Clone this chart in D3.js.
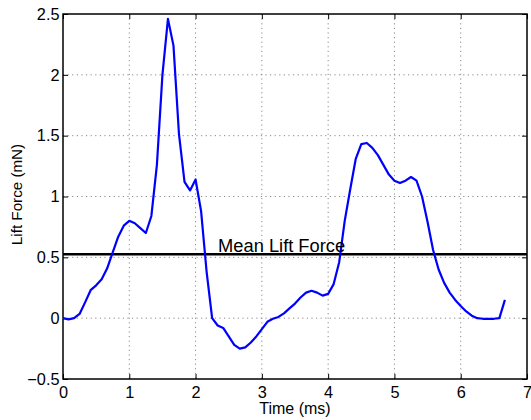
<!DOCTYPE html>
<html>
<head>
<meta charset="utf-8">
<script src="https://cdn.jsdelivr.net/npm/d3@7"></script>
<style>
  html, body { margin: 0; padding: 0; background: #fff; }
  svg { display: block; }
  text { font-family: "Liberation Sans", Arial, Helvetica, sans-serif; fill: #000; }
</style>
</head>
<body>
<svg id="chart" width="531" height="420"></svg>
<script>
// Lift force sampled every 1/12 ms
const sampleStep = 1 / 12;
const liftForce = [
  0.00, -0.01, 0.00, 0.035, 0.13, 0.23, 0.27, 0.32, 0.41, 0.54,
  0.67, 0.76, 0.80, 0.78, 0.74, 0.70, 0.84, 1.26, 2.00, 2.46,
  2.24, 1.51, 1.12, 1.05, 1.14, 0.88, 0.38, 0.00, -0.06, -0.08,
  -0.15, -0.22, -0.25, -0.24, -0.20, -0.15, -0.09, -0.03, -0.005, 0.01,
  0.04, 0.08, 0.12, 0.17, 0.21, 0.225, 0.21, 0.185, 0.20, 0.28,
  0.46, 0.80, 1.06, 1.31, 1.43, 1.44, 1.40, 1.34, 1.26, 1.18,
  1.13, 1.11, 1.13, 1.16, 1.13, 1.00, 0.79, 0.56, 0.40, 0.29,
  0.21, 0.15, 0.10, 0.055, 0.02, 0.00, -0.005, -0.005, -0.005, 0.00,
  0.15
];
const meanLift = 0.525;
const meanLabel = "Mean Lift Force";
const meanLabelTime = 2.34;

const xTicks = [0, 1, 2, 3, 4, 5, 6, 7];
const xTickLabels = ["0", "1", "2", "3", "4", "5", "6", "7"];
const yTicks = [-0.5, 0, 0.5, 1, 1.5, 2, 2.5];
const yTickLabels = ["\u22120.5", "0", "0.5", "1", "1.5", "2", "2.5"];
const xTitle = "Time (ms)";
const yTitle = "Lift Force (mN)";

const svg = d3.select("#chart");
const plotLeft = 63, plotRight = 527, plotTop = 14, plotBottom = 379;

const x = d3.scaleLinear().domain([0, 7]).range([plotLeft, plotRight]);
const y = d3.scaleLinear().domain([-0.5, 2.5]).range([plotBottom, plotTop]);

// dotted grid
const grid = svg.append("g").attr("stroke", "#8a8a8a").attr("stroke-width", 1)
  .attr("stroke-dasharray", "1.2,3.4");
grid.selectAll("line.gx").data(xTicks.slice(1, -1)).join("line")
  .attr("x1", d => x(d)).attr("x2", d => x(d))
  .attr("y1", plotTop).attr("y2", plotBottom);
grid.selectAll("line.gy").data(yTicks.slice(1, -1)).join("line")
  .attr("x1", plotLeft).attr("x2", plotRight)
  .attr("y1", d => y(d)).attr("y2", d => y(d));

// axes with inward ticks
const fontSize = "16.3px";
const xAxis = d3.axisBottom(x).tickValues(xTicks)
  .tickFormat((d, i) => xTickLabels[i]).tickSize(-5).tickPadding(7);
const yAxis = d3.axisLeft(y).tickValues(yTicks)
  .tickFormat((d, i) => yTickLabels[i]).tickSize(-5).tickPadding(3.5);

function styleAxis(g) {
  g.select(".domain").remove();
  g.selectAll(".tick line").attr("stroke", "#000").attr("stroke-width", 1);
  g.selectAll(".tick text").style("font-size", fontSize)
    .style("font-family", "'Liberation Sans', Arial, sans-serif").attr("fill", "#000");
}
svg.append("g").attr("transform", `translate(0,${plotBottom})`).call(xAxis).call(styleAxis);
svg.append("g").attr("transform", `translate(${plotLeft},0)`).call(yAxis).call(styleAxis);
// mirrored ticks on top and right
svg.append("g").attr("transform", `translate(0,${plotTop})`)
  .call(d3.axisTop(x).tickValues(xTicks).tickFormat("").tickSize(-5)).call(styleAxis);
svg.append("g").attr("transform", `translate(${plotRight},0)`)
  .call(d3.axisRight(y).tickValues(yTicks).tickFormat("").tickSize(-5)).call(styleAxis);

// frame
svg.append("rect").attr("x", plotLeft).attr("y", plotTop)
  .attr("width", plotRight - plotLeft).attr("height", plotBottom - plotTop)
  .attr("fill", "none").attr("stroke", "#000").attr("stroke-width", 1.5);

// mean line
svg.append("line")
  .attr("x1", plotLeft).attr("x2", plotRight)
  .attr("y1", y(meanLift)).attr("y2", y(meanLift))
  .attr("stroke", "#000").attr("stroke-width", 2.6);

// lift force curve
const line = d3.line().x((d, i) => x(i * sampleStep)).y(d => y(d));
svg.append("path").datum(liftForce)
  .attr("d", line).attr("fill", "none")
  .attr("stroke", "#0000ff").attr("stroke-width", 2.2)
  .attr("stroke-linejoin", "round");

// mean label
svg.append("text")
  .attr("x", x(meanLabelTime)).attr("y", y(meanLift) - 1.8)
  .style("font-size", "18.3px").text(meanLabel);

// axis titles
svg.append("text")
  .attr("x", (plotLeft + plotRight) / 2).attr("y", 414)
  .attr("text-anchor", "middle").style("font-size", "16px").text(xTitle);
svg.append("text")
  .attr("transform", `translate(21.5,${(plotTop + plotBottom) / 2 - 2}) rotate(-90)`)
  .attr("text-anchor", "middle").style("font-size", "15.2px").text(yTitle);
</script>
</body>
</html>
